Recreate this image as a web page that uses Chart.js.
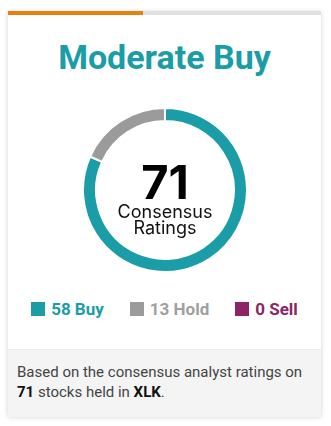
<!DOCTYPE html>
<html>
<head>
<meta charset="utf-8">
<script src="https://cdn.jsdelivr.net/npm/chart.js@4.4.0/dist/chart.umd.min.js"></script>
<style>
  html, body { margin: 0; padding: 0; background: #fff; width: 331px; height: 426px; overflow: hidden; font-family: Roboto, sans-serif; }
  .card { position: absolute; left: 8px; top: 11px; width: 313px; height: 405px; background: #fff; box-shadow: 0 1px 5px rgba(0,0,0,0.18); }
  .bar { position: absolute; left: 0; top: 0; width: 313px; height: 4px; background: #e0e0e0; }
  .bar .fill { width: 135px; height: 4px; background: #e8800f; }
  .title { position: absolute; left: 0; top: 26px; width: 313px; text-align: center; font-size: 34px; line-height: 40px; font-weight: 700; color: #1a9da6; }
  .chartBox { position: absolute; left: 74px; top: 96px; width: 166px; height: 166px; }
  .legend { position: absolute; left: 0; top: 288px; width: 313px; text-align: center; font-size: 17px; line-height: 20px; font-weight: 700; white-space: nowrap; }
  .legend span.item { display: inline-block; margin: 0 13px; }
  .legend i { display: inline-block; width: 14px; height: 14px; vertical-align: -1px; margin-right: 6px; }
  .footer { position: absolute; left: 0; top: 338px; width: 313px; height: 67px; background: #f4f4f4; border-top: 1px solid #ececec; }
  .footer p { margin: 0; padding: 12px 9px 0 9px; font-size: 15px; line-height: 20px; color: #444; }
  .footer b { color: #111; }
</style>
</head>
<body>
<div class="card">
  <div class="bar"><div class="fill"></div></div>
  <div class="title">Moderate Buy</div>
  <div class="chartBox"><canvas id="ratings"></canvas></div>
  <div class="legend" id="legend"></div>
  <div class="footer"><p>Based on the consensus analyst ratings on <b>71</b> stocks held in <b>XLK</b>.</p></div>
</div>
<script>
const labels = ['Buy', 'Hold', 'Sell'];
const counts = [58, 13, 0];
const colors = ['#1a9da6', '#9b9b9b', '#8c2466'];
const textColors = ['#1a9da6', '#a0a0a0', '#8c2466'];

const total = counts.reduce((a, b) => a + b, 0);

// Legend below the ring
const legend = document.getElementById('legend');
labels.forEach((label, i) => {
    const item = document.createElement('span');
    item.className = 'item';
    item.style.color = textColors[i];
    item.innerHTML = `<i style="background:${colors[i]}"></i>${counts[i]} ${label}`;
    legend.appendChild(item);
});

// Total in the middle of the ring
const centerText = {
    id: 'centerText',
    afterDraw(chart) {
        const ctx = chart.ctx;
        const meta = chart.getDatasetMeta(0).data[0];
        const x = meta.x, y = meta.y;
        ctx.save();
        ctx.textAlign = 'center';
        ctx.textBaseline = 'alphabetic';
        ctx.fillStyle = '#000';
        ctx.font = 'bold 47px Inter';
        ctx.fillText(String(total), x, y + 9);
        ctx.fillStyle = '#111';
        ctx.font = '18px Inter';
        ctx.fillText('Consensus', x, y + 28);
        ctx.fillText('Ratings', x, y + 44);
        ctx.restore();
    }
};

new Chart(document.getElementById('ratings'), {
    type: 'doughnut',
    data: {
        labels: labels,
        datasets: [{
            data: counts,
            backgroundColor: colors,
            borderColor: '#fff',
            borderWidth: 2
        }]
    },
    options: {
        responsive: true,
        maintainAspectRatio: false,
        animation: false,
        cutout: '84%',
        plugins: {
            legend: { display: false },
            tooltip: { enabled: false }
        }
    },
    plugins: [centerText]
});
</script>
</body>
</html>
